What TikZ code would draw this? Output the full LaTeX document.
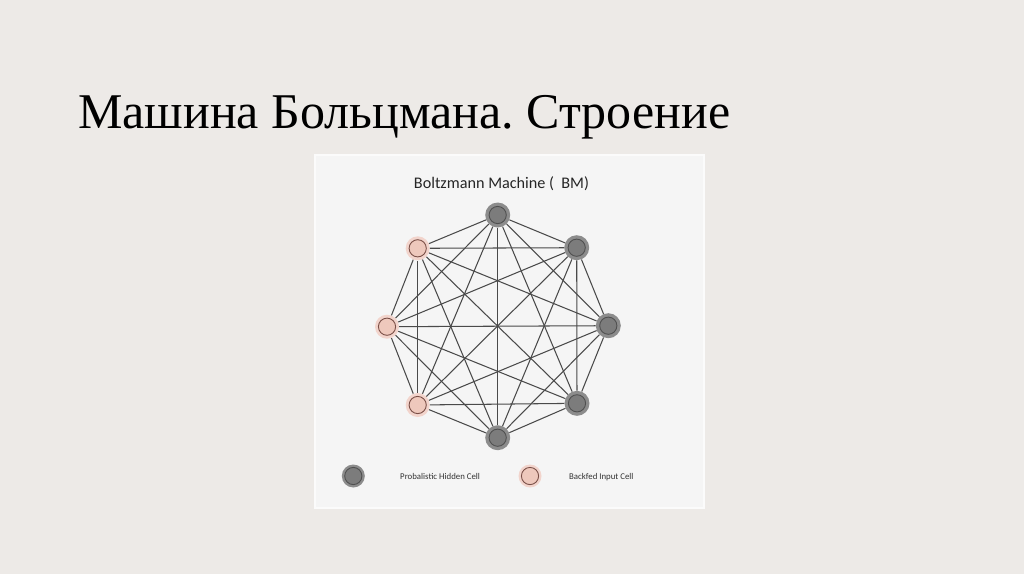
\documentclass[tikz,border=0pt]{standalone}
\usepackage{fontspec}
\setmainfont{Liberation Serif}
\newfontfamily\calib{Carlito}
\definecolor{bgc}{HTML}{EDEAE7}
\definecolor{boxc}{HTML}{F5F5F5}
\definecolor{boxedge}{HTML}{FBFBFB}
\definecolor{edgec}{HTML}{4A4A4A}
\definecolor{hidout}{HTML}{8C8C8C}
\definecolor{hidin}{HTML}{7C7C7C}
\definecolor{hidline}{HTML}{505050}
\definecolor{inout}{HTML}{F2D4CC}
\definecolor{inin}{HTML}{EEC8BC}
\definecolor{inline}{HTML}{7A4F47}
\tikzset{
  hidden/.style={circle, fill=hidout, minimum size=25pt, inner sep=0pt,
    path picture={\draw[hidline, line width=0.9pt, fill=hidin] (path picture bounding box.center) circle (8.6pt);}},
  inputcell/.style={circle, fill=inout, minimum size=24pt, inner sep=0pt,
    path picture={\draw[inline, line width=0.9pt, fill=inin] (path picture bounding box.center) circle (8.6pt);}},
  conn/.style={draw=edgec, line width=1.05pt},
  legendtext/.style={font=\calib\fontsize{8.8}{10}\selectfont, text=black!80, anchor=base west, inner sep=0pt}
}
\begin{document}
\frenchspacing
\begin{tikzpicture}[x=1pt,y=-1pt]
\fill[bgc] (0,0) rectangle (1024,574);
\useasboundingbox (0,0) rectangle (1024,574);
\node[anchor=base west, inner sep=0pt, font=\fontsize{50}{60}\selectfont] (title) at (78,128) {Машина Больцмана. Строение};
\draw[fill=boxc, draw=boxedge, line width=1.5pt] (315,155) rectangle (704,508);
\node[font=\calib\fontsize{16.2}{19}\selectfont, text=black!85, inner sep=0pt] (caption) at (501.5,184) {Boltzmann Machine (\ \ BM)};
\node[hidden] (T) at (497.7,215) {};
\node[hidden] (TR) at (576.7,247.7) {};
\node[hidden] (R) at (608.3,325.7) {};
\node[hidden] (BR) at (577,403.3) {};
\node[hidden] (B) at (497.7,437.7) {};
\node[inputcell] (BL) at (417.7,405) {};
\node[inputcell] (L) at (387,326.7) {};
\node[inputcell] (TL) at (417.7,248.3) {};
\foreach \a/\b in {T/TR,T/R,T/BR,T/B,T/BL,T/L,T/TL,
                   TR/R,TR/BR,TR/B,TR/BL,TR/L,TR/TL,
                   R/BR,R/B,R/BL,R/L,R/TL,
                   BR/B,BR/BL,BR/L,BR/TL,
                   B/BL,B/L,B/TL,
                   BL/L,BL/TL,
                   L/TL}
  \draw[conn] (\a) -- (\b);
\node[hidden, minimum size=23pt] (lh) at (353.3,476) {};
\node[legendtext] (lht) at (400,479) {Probalistic Hidden Cell};
\node[inputcell, minimum size=23pt] (li) at (530,476) {};
\node[legendtext] (lit) at (569,479) {Backfed Input Cell};
\end{tikzpicture}
\end{document}
